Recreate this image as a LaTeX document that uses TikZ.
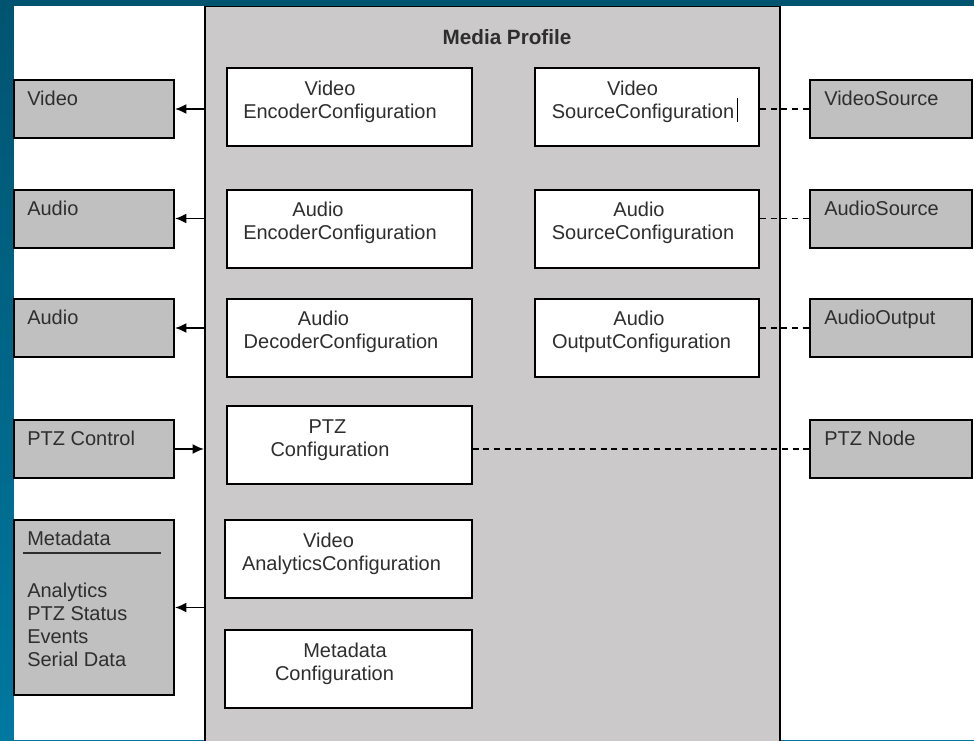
\documentclass[tikz,border=0pt]{standalone}
\usepackage{fontspec}
\setmainfont{Liberation Sans}
\usepackage{xcolor}
\usetikzlibrary{positioning,arrows.meta}

\definecolor{bgblue}{HTML}{005470}
\definecolor{bgbluelow}{HTML}{0078A0}
\definecolor{profgray}{HTML}{CBC9CA}
\definecolor{boxgray}{HTML}{C0C0C0}
\definecolor{txtgray}{HTML}{2E2E2E}
\newcommand{\boxfont}{\fontsize{15}{17.25}\selectfont}
\newlength{\pxu}
\setlength{\pxu}{0.75pt}
% one line of a configuration box, moved sideways by #1 pixels
\newcommand{\cfgline}[2]{\hspace*{#1\pxu}#2\hspace*{-#1\pxu}}

\tikzset{
  cfgbox/.style={draw=black, line width=1.5pt, fill=white, minimum width=183.75pt,
    minimum height=58.5pt, inner sep=0pt, align=center, text=txtgray, font=\boxfont,
    text depth=10.9pt},
  srcbox/.style={draw=black, line width=1.5pt, fill=boxgray, minimum width=120pt,
    minimum height=43.5pt, inner sep=0pt},
  boxtxt/.style={anchor=north west, inner sep=0pt, xshift=10.5pt, yshift=-9pt,
    text=txtgray, font=\boxfont},
  outarrow/.style={-{Latex[length=8.5pt,width=7.5pt]}, line width=1.3pt},
  dashlink/.style={dash pattern=on 4.5pt off 3.5pt, line width=1.3pt}
}

\begin{document}
\begin{tikzpicture}[x=0.75pt,y=-0.75pt]
  \useasboundingbox (0,0) rectangle (974,740);
  % background
  \shade[top color=bgblue, bottom color=bgbluelow] (0,0) rectangle (974,740);
  \fill[white] (14,6) rectangle (974,740);

  % media profile
  \node[draw=black, line width=1.5pt, fill=profgray, minimum width=431.25pt,
    minimum height=556pt] (profile) at (492.5,377) {};
  \fill[bgblue] (14,0) rectangle (974,5.5);
  \node[font=\bfseries\fontsize{15.5}{18}\selectfont, text=txtgray] (title) at (507,37) {Media Profile};

  % configurations
  \node[cfgbox] (vencfg) at (349.5,107) {\cfgline{-19.5}{Video}\\\cfgline{-9.5}{EncoderConfiguration}};
  \node[cfgbox] (aencfg) at (349.5,228.5) {\cfgline{-31.5}{Audio}\\\cfgline{-9.5}{EncoderConfiguration}};
  \node[cfgbox] (adeccfg) at (349.5,337.5) {\cfgline{-26}{Audio}\\\cfgline{-8.5}{DecoderConfiguration}};
  \node[cfgbox] (ptzcfg) at (349,445) {\cfgline{-21.5}{PTZ}\\\cfgline{-19}{Configuration}};
  \node[cfgbox, minimum width=185.25pt] (vancfg) at (348.5,559) {\cfgline{-20}{Video}\\\cfgline{-7}{AnalyticsConfiguration}};
  \node[cfgbox, minimum width=185.25pt] (metacfg) at (348.5,669) {\cfgline{-3.5}{Metadata}\\\cfgline{-14}{Configuration}};

  \node[cfgbox, minimum width=168pt] (vsrccfg) at (647,107) {\cfgline{-14.5}{Video}\\\cfgline{-4}{SourceConfiguration}};
  \node[cfgbox, minimum width=168pt] (asrccfg) at (647,228.5) {\cfgline{-8}{Audio}\\\cfgline{-4}{SourceConfiguration}};
  \node[cfgbox, minimum width=168pt] (aoutcfg) at (647,337.5) {\cfgline{-8}{Audio}\\\cfgline{-5.5}{OutputConfiguration}};
  \draw[line width=0.6pt] (737,98) -- (737,122);

  % streams (left)
  \node[srcbox, label={[boxtxt]north west:Video}] (vidout) at (94,109) {};
  \node[srcbox, label={[boxtxt]north west:Audio}] (audout) at (94,218.5) {};
  \node[srcbox, label={[boxtxt]north west:Audio}] (audin) at (94,328) {};
  \node[srcbox, label={[boxtxt]north west:PTZ Control}] (ptzctl) at (94,449) {};
  \node[srcbox, minimum height=131.25pt, label={[boxtxt]north west:Metadata}] (metaout) at (94,607.5) {};
  \draw[line width=0.8pt, txtgray] ([xshift=7.5pt,yshift=-25.5pt]metaout.north west) -- ++(138,0);
  \node[anchor=north west, inner sep=0pt, align=left, text=txtgray, font=\boxfont] (metalist)
    at ([xshift=10.5pt,yshift=-48pt]metaout.north west) {Analytics\\PTZ Status\\Events\\Serial Data};

  % sources (right)
  \node[srcbox, minimum width=121.5pt, label={[boxtxt, xshift=0.75pt]north west:VideoSource}] (vsrc) at (891,109) {};
  \node[srcbox, minimum width=121.5pt, label={[boxtxt, xshift=0.75pt]north west:AudioSource}] (asrc) at (891,218.5) {};
  \node[srcbox, minimum width=121.5pt, label={[boxtxt, xshift=0.75pt]north west:AudioOutput}] (aout) at (891,328) {};
  \node[srcbox, minimum width=121.5pt, label={[boxtxt, xshift=0.75pt]north west:PTZ Node}] (ptznode) at (891,449) {};

  % connectors
  \draw[outarrow] (vidout.east -| profile.west) -- (vidout.east);
  \draw[outarrow] (audout.east -| profile.west) -- (audout.east);
  \draw[outarrow] (audin.east -| profile.west) -- (audin.east);
  \draw[outarrow] (ptzctl.east) -- (ptzctl.east -| profile.west);
  \draw[outarrow] (metaout.east -| profile.west) -- (metaout.east);

  \draw[dashlink] (vsrccfg.east |- vsrc.west) -- (vsrc.west);
  \draw[dashlink] (asrccfg.east |- asrc.west) -- (asrc.west);
  \draw[dashlink] (aoutcfg.east |- aout.west) -- (aout.west);
  \draw[dashlink] (ptzcfg.east |- ptznode.west) -- (ptznode.west);
\end{tikzpicture}
\end{document}
